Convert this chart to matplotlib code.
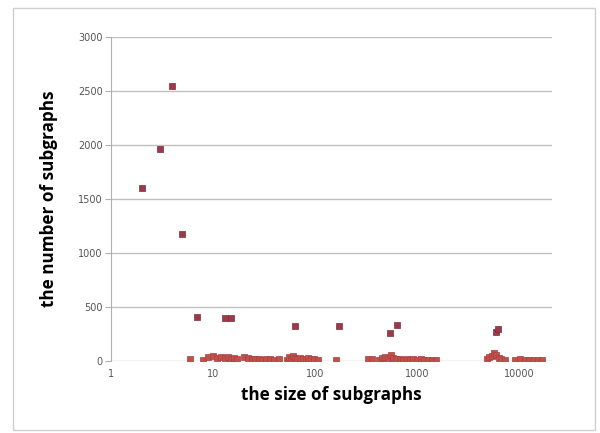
import numpy as np
import matplotlib.pyplot as plt
from matplotlib.patches import Rectangle

# subgraph size vs count
big_x = [2, 3, 4, 5, 7, 13, 15, 64, 170, 540, 630, 5900, 6200]
big_y = [1600, 1960, 2550, 1180, 410, 395, 395, 325, 325, 262, 333, 265, 300]

small_x = [6, 8, 9, 10, 11, 12, 13, 14, 15, 16, 17,
           20, 22, 24, 26, 28, 30, 33, 36, 40, 44,
           53, 56, 58, 61, 64, 67, 71, 76, 81, 86, 92, 98, 106, 160,
           330, 360, 420, 450, 480, 520, 550, 580, 620, 680, 730, 790,
           850, 920, 1000, 1080, 1170, 1270, 1400, 1520,
           4800, 5100, 5400, 5700, 6000, 6300, 6700, 7200,
           9200, 10200, 11300, 12500, 13800, 15300, 16800]
small_y = [20, 12, 35, 45, 30, 40, 25, 35, 20, 30, 18,
           40, 25, 20, 15, 20, 12, 20, 15, 10, 15,
           12, 35, 20, 45, 30, 15, 30, 20, 12, 25, 15, 20, 12, 5,
           22, 15, 10, 25, 35, 20, 60, 30, 15, 20, 10, 15,
           10, 15, 10, 15, 10, 12, 10, 8,
           15, 35, 50, 75, 55, 30, 20, 10,
           10, 15, 10, 12, 10, 12, 10]

fig = plt.figure(figsize=(6, 4.33), dpi=100)
fig.patches.append(Rectangle((13/600, 1-430/433), 582/600, 422/433,
                             transform=fig.transFigure, fill=False,
                             edgecolor='#d0d0d0', linewidth=1))
ax = fig.add_axes([0.185, 0.1663, 0.735, 0.7482])

ax.scatter(small_x, small_y, marker='s', s=18, color='#c0504d',
           edgecolors='#a8403c', linewidths=0.5, zorder=3)
ax.scatter(big_x, big_y, marker='s', s=20, color='#9c3a4a',
           edgecolors='#7a2e3a', linewidths=0.5, zorder=3)

ax.set_xscale('log')
ax.set_xlim(1, 21000)
ax.set_ylim(0, 3000)
ax.set_yticks(np.arange(0, 3001, 500))
ax.set_xticks([1, 10, 100, 1000, 10000])
ax.set_xticklabels(['1', '10', '100', '1000', '10000'])
ax.minorticks_off()
ax.grid(axis='y', color='#c0c0c0', linewidth=1)
ax.set_axisbelow(True)

for s in ['top', 'right', 'bottom']:
    ax.spines[s].set_visible(False)
ax.spines['left'].set_color('#b0b0b0')
ax.tick_params(axis='y', length=4, color='#b0b0b0', labelsize=7,
               labelcolor='#555555', pad=2)
ax.tick_params(axis='x', length=0, labelsize=7, labelcolor='#555555', pad=6)

ax.set_xlabel('the size of subgraphs', fontsize=12.3, fontweight='bold',
              family='Open Sans', labelpad=5)
ax.set_ylabel('the number of subgraphs', fontsize=12.3, fontweight='bold',
              family='Open Sans', labelpad=14)

fig.savefig('out.png', dpi=100)
